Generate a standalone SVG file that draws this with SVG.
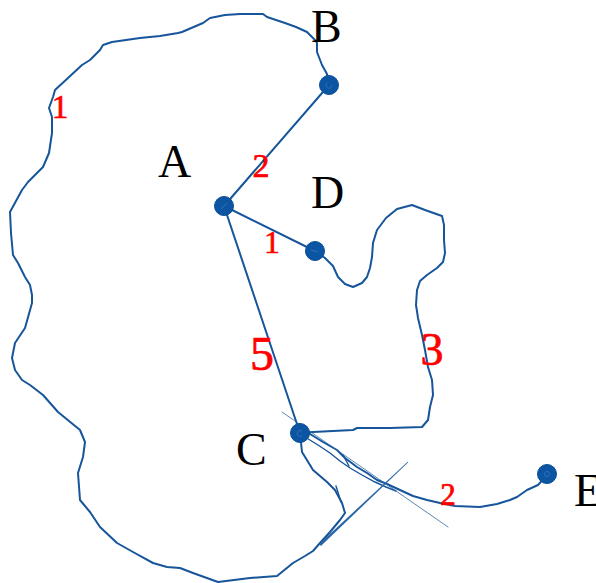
<svg xmlns="http://www.w3.org/2000/svg" width="596" height="583" viewBox="0 0 596 583">
<style>
.e{fill:none;stroke:#17559a;stroke-width:2;stroke-linejoin:round;stroke-linecap:round}
.t{fill:none;stroke:#17559a;stroke-width:1.4;stroke-linecap:round}
.n{fill:#0b55a2;stroke:#0a4e95;stroke-width:1}
.m{fill:none;stroke:#2c70b8;stroke-width:1}
.lb{font-family:"Liberation Serif",serif;font-size:46px;fill:#000}
.w{font-family:"Liberation Serif",serif;fill:#f00;stroke:#f00;stroke-width:0.7;text-anchor:middle}
</style>
<rect width="596" height="583" fill="#fff"/>
<g id="connectors">
<line class="e" x1="224" y1="206" x2="329" y2="85"/>
<line class="e" x1="224" y1="206" x2="315" y2="251"/>
<line class="e" x1="224" y1="206" x2="300" y2="433"/>
<path class="e" d="M329,85 L327,74 L322,65 L317,52 L317,43 L315,40 L307,32 L296,27 L285,23 L267,17 L263,14 L240,14 L225,15 L210,18 L203,23 L182,32 L178,33 L160,36 L140,38 L112,42 L103,45 L100,50 L90,60 L82,65 L68,78 L55,90 L53,97 L49,108 L52,117 L52,133 L49,153 L43,167 L28,182 L22,190 L10,212 L11,233 L13,255 L18,263 L25,277 L30,285 L32,295 L32,303 L25,328 L15,343 L12,358 L15,370 L22,380 L30,385 L43,395 L58,412 L80,430 L85,442 L83,457 L78,473 L80,500 L90,512 L100,527 L117,543 L133,552 L153,563 L167,567 L180,568 L193,573 L218,582 L250,578 L277,576 L293,563 L305,556 L313,551 L320,543 L330,532 L340,520 L345,513 L342,503 L335,490 L327,482 L313,470 L302,452 L300,433"/>
<path class="t" d="M336,486 L341,502"/>
<path class="e" d="M315,251 L325,258 L333,266 L338,277 L345,284 L353,287 L362,283 L367,277 L370,268 L372,257 L373,243 L377,230 L386,218 L397,209 L412,205 L425,210 L442,216 L444,225 L444,240 L445,253 L443,262 L437,268 L427,275 L420,281 L417,290 L416,305 L418,318 L422,335 L425,350 L428,367 L432,380 L433,395 L430,407 L428,420 L422,427 L390,428 L357,428 L353,430 L313,432 L300,433"/>
<path class="e" d="M300,433 L310,434 L323,442 L337,450 L345,458 L357,467 L367,473 L377,480 L387,484 L400,490 L413,496 L427,500 L440,503 L455,506 L480,507 L497,504 L510,500 L517,497 L527,490 L538,485 L547,475"/>
<path class="t" d="M305,437 L318,445 L330,453 L340,461 L350,468 L362,475 L375,482 L386,487 L396,491"/>
<path class="t" d="M343,455 L349,466"/>
<line x1="282" y1="412" x2="448" y2="527" stroke="#2f6aa8" stroke-width="1" stroke-opacity="0.8" stroke-linecap="round"/>
<polygon points="319.1,544 320.9,546 408.3,462.3 407.7,461.7" fill="#2a66a6"/>
</g>
<g id="node-A"><circle class="n" cx="224" cy="206" r="9.5"/><path class="m" d="M221,209 L227,203"/><text class="lb" x="158" y="177">A</text></g>
<g id="node-B"><circle class="n" cx="329" cy="85" r="9.5"/><path class="m" d="M327,83 A3,3 0 1 0 332,85"/><text class="lb" x="311" y="42">B</text></g>
<g id="node-D"><circle class="n" cx="315" cy="251" r="9.5"/><path class="m" d="M311,250 L318,252"/><text class="lb" x="311" y="208">D</text></g>
<g id="node-C"><circle class="n" cx="300" cy="433" r="9.5"/><path class="m" d="M302,431 A3,3 0 1 0 302,436"/><text class="lb" x="236" y="465">C</text></g>
<g id="node-E"><circle class="n" cx="547" cy="474" r="9.5"/><circle class="m" cx="547" cy="474" r="2.5"/><text class="lb" x="574" y="506">E</text></g>
<g id="weights">
<text class="w" x="60" y="118" font-size="33">1</text>
<text class="w" x="261" y="177" font-size="34">2</text>
<text class="w" x="272" y="253" font-size="31">1</text>
<text class="w" x="262" y="370" font-size="48">5</text>
<text class="w" x="432" y="365" font-size="46">3</text>
<text class="w" x="448" y="505" font-size="31">2</text>
</g>
</svg>
